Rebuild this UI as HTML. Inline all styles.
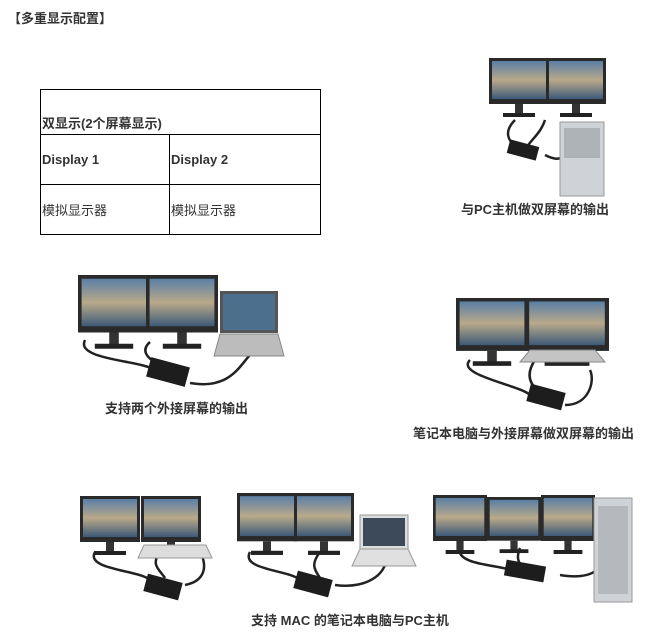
<!DOCTYPE html>
<html><head><meta charset="utf-8"><style>
body{margin:0;width:649px;height:641px;background:#fff;position:relative;overflow:hidden;font-family:"Liberation Sans","Noto Sans CJK SC",sans-serif;color:#333;font-size:13px}
.t{position:absolute;white-space:nowrap}
table{position:absolute;left:40px;top:89px;border-collapse:collapse;width:281px}
td{border:1px solid #000;padding:0 0 0 1px;font-size:13px;color:#333;vertical-align:middle}
svg{position:absolute;left:0;top:0}
</style></head><body>
<div class="t" style="left:8px;top:8px;font-weight:bold">【多重显示配置】</div>
<table>
<tr><td colspan="2" style="height:42px;vertical-align:bottom;padding-bottom:2px;font-weight:bold">双显示(2个屏幕显示)</td></tr>
<tr><td style="height:49px;width:127px;font-weight:bold">Display 1</td><td style="font-weight:bold">Display 2</td></tr>
<tr><td style="height:49px">模拟显示器</td><td>模拟显示器</td></tr>
</table>
<div class="t" style="left:461px;top:199px;font-weight:bold">与PC主机做双屏幕的输出</div>
<div class="t" style="left:105px;top:398px;font-weight:bold">支持两个外接屏幕的输出</div>
<div class="t" style="left:413px;top:423px;font-weight:bold">笔记本电脑与外接屏幕做双屏幕的输出</div>
<div class="t" style="left:251px;top:610px;font-weight:bold">支持 MAC 的笔记本电脑与PC主机</div>
<svg width="649" height="641" viewBox="0 0 649 641">
<defs>
<linearGradient id="sc" x1="0" y1="0" x2="0" y2="1"><stop offset="0" stop-color="#5a7fa6"/><stop offset="0.5" stop-color="#b9a98a"/><stop offset="1" stop-color="#3d5a78"/></linearGradient>
<g id="mon"><rect x="0" y="0" width="60" height="46" fill="#2a2a2a"/><rect x="3" y="3" width="54" height="38" fill="url(#sc)"/><rect x="26" y="46" width="8" height="10" fill="#333"/><rect x="14" y="55" width="32" height="4" fill="#222"/></g>
</defs>
<g fill="none" stroke="#222" stroke-width="2.5">
<path d="M515 120 C505 130 505 140 520 150 M545 120 C540 135 530 140 525 150 M545 155 C555 160 560 160 565 155"/>
<path d="M85 340 C75 360 140 360 155 370 M150 342 C135 355 160 365 170 372 M190 383 C230 390 240 365 250 355"/>
<path d="M470 360 C455 375 520 385 530 395 M535 360 C525 375 530 385 540 392 M565 405 C590 405 595 380 590 370"/>
<path d="M95 552 C85 570 140 570 150 580 M160 552 C150 565 160 570 165 578 M185 585 C210 580 205 560 200 552"/>
<path d="M250 552 C240 570 290 570 300 580 M320 552 C310 565 315 570 320 578 M335 585 C370 590 390 570 385 555"/>
<path d="M460 548 C455 565 500 565 510 570 M520 548 C515 560 520 565 525 568 M560 575 C590 580 600 570 605 560"/>
</g>
<!-- top right -->
<use href="#mon" x="489" y="58" transform="scale(1)"/>
<use href="#mon" x="546" y="58"/>
<rect x="560" y="122" width="44" height="74" fill="#cfd2d6" stroke="#999"/>
<rect x="564" y="128" width="36" height="30" fill="#aeb3b8"/>
<rect x="508" y="143" width="30" height="14" fill="#1d1d1d" transform="rotate(15 523 150)"/>
<!-- middle left -->
<g transform="translate(78,275) scale(1.2,1.25)"><use href="#mon"/></g>
<g transform="translate(146,275) scale(1.2,1.25)"><use href="#mon"/></g>
<rect x="220" y="291" width="58" height="42" fill="#555"/><rect x="223" y="294" width="52" height="36" fill="#4b6f8c"/>
<polygon points="214,356 284,356 278,334 220,334" fill="#bcbcbc" stroke="#888"/>
<rect x="148" y="362" width="40" height="20" fill="#1d1d1d" transform="rotate(15 168 372)"/>
<!-- middle right -->
<g transform="translate(456,298) scale(1.2,1.15)"><use href="#mon"/></g>
<g transform="translate(525,298) scale(1.4,1.15)"><use href="#mon"/></g>
<polygon points="520,362 605,362 595,350 530,350" fill="#c4c4c4" stroke="#888"/>
<rect x="528" y="388" width="36" height="18" fill="#1d1d1d" transform="rotate(15 546 397)"/>
<!-- bottom 1 -->
<g transform="translate(80,496)"><use href="#mon"/></g>
<g transform="translate(141,496)"><use href="#mon"/></g>
<polygon points="138,558 212,558 206,545 144,545" fill="#ddd" stroke="#999"/>
<rect x="145" y="578" width="36" height="18" fill="#1d1d1d" transform="rotate(15 163 587)"/>
<!-- bottom 2 -->
<g transform="translate(237,493) scale(1,1.05)"><use href="#mon"/></g>
<g transform="translate(294,493) scale(1,1.05)"><use href="#mon"/></g>
<rect x="360" y="515" width="48" height="34" fill="#ddd" stroke="#999"/><rect x="363" y="518" width="42" height="28" fill="#3c4a5a"/>
<polygon points="352,566 416,566 408,549 360,549" fill="#e0e0e0" stroke="#999"/>
<rect x="295" y="575" width="36" height="18" fill="#1d1d1d" transform="rotate(15 313 584)"/>
<!-- bottom 3 -->
<g transform="translate(433,495) scale(0.9,1)"><use href="#mon"/></g>
<g transform="translate(487,497) scale(0.9,0.95)"><use href="#mon"/></g>
<g transform="translate(541,495) scale(0.9,1)"><use href="#mon"/></g>
<rect x="594" y="498" width="38" height="104" fill="#cfd2d6" stroke="#999"/>
<rect x="598" y="506" width="30" height="88" fill="#b5b8bc"/>
<rect x="505" y="563" width="40" height="16" fill="#1d1d1d" transform="rotate(10 525 571)"/>
</svg>
</body></html>
